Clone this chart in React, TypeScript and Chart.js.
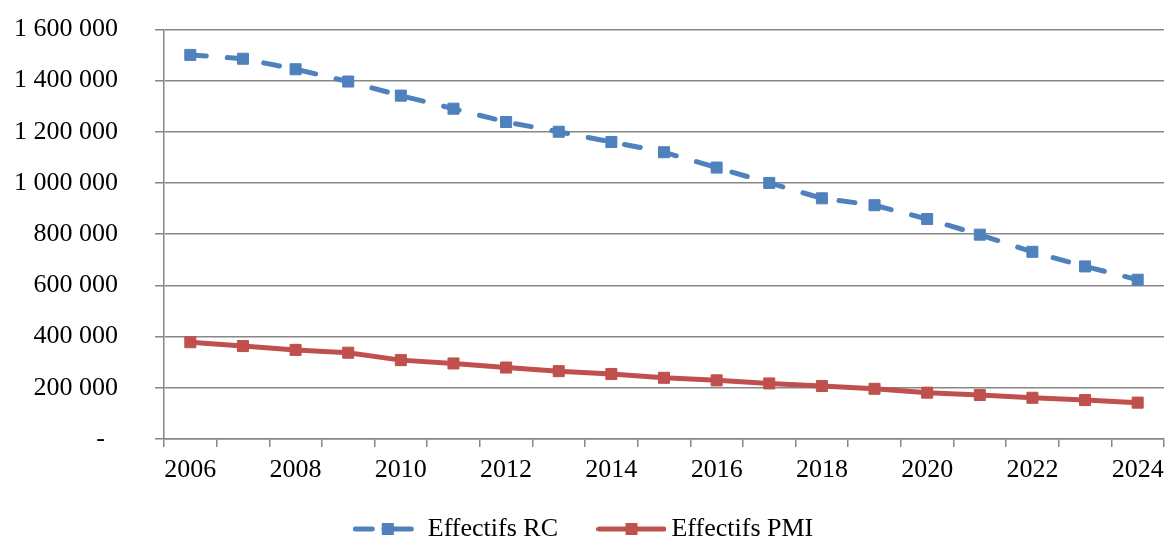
import React, { useEffect, useRef } from "react";
import { Chart, registerables } from "chart.js";

Chart.register(...registerables);

const years = ["2006", "2007", "2008", "2009", "2010", "2011", "2012", "2013", "2014", "2015", "2016", "2017", "2018", "2019", "2020", "2021", "2022", "2023", "2024"];
const rcValues = [1500000, 1485000, 1444000, 1396000, 1341000, 1290000, 1238000, 1200000, 1160000, 1120000, 1060000, 1000000, 940000, 913000, 859000, 798000, 731000, 674000, 622000];
const pmiValues = [378000, 363000, 348000, 337000, 308000, 295000, 279000, 265000, 254000, 239000, 229000, 217000, 207000, 196000, 181000, 172000, 161000, 152000, 142000];
const seriesNames = ["Effectifs RC", "Effectifs PMI"];
const yMin = 0;
const yMax = 1600000;
const yStep = 200000;

const BLUE = "#4F81BD";
const RED = "#C0504D";
const GRID = "#878787";
const FONT = '"Liberation Serif", "Times New Roman", serif';

function makeLegendSymbol(color: string, dashed: boolean): HTMLCanvasElement {
  const c = document.createElement("canvas");
  c.width = 70;
  c.height = 14;
  const ctx = c.getContext("2d")!;
  ctx.strokeStyle = color;
  ctx.fillStyle = color;
  ctx.lineWidth = 5;
  ctx.lineCap = "round";
  ctx.beginPath();
  if (dashed) {
    ctx.moveTo(2.5, 7);
    ctx.lineTo(19.5, 7);
    ctx.moveTo(31, 7);
    ctx.lineTo(58.5, 7);
  } else {
    ctx.moveTo(2.5, 7);
    ctx.lineTo(67.5, 7);
  }
  ctx.stroke();
  ctx.fillRect(29, 1, 12, 12);
  return c;
}

function formatY(v: number): string {
  if (v === 0) return "-  ";
  return String(v).replace(/\B(?=(\d{3})+(?!\d))/g, " ");
}

const legendShift = {
  id: "legendShift",
  afterLayout(chart: any) {
    if (chart.legend) {
      chart.legend.left += 5;
      chart.legend.right += 5;
    }
  },
};

export default function App() {
  const ref = useRef<HTMLCanvasElement | null>(null);

  useEffect(() => {
    if (!ref.current) return;
    Chart.defaults.font.family = FONT;
    Chart.defaults.font.size = 26;
    Chart.defaults.color = "#000";
    const symbols = [makeLegendSymbol(BLUE, true), makeLegendSymbol(RED, false)];
    const gaps = ["\u2002 ", ""];

    const chart = new Chart(ref.current, {
      type: "line",
      data: {
        labels: years,
        datasets: [
          {
            label: seriesNames[0],
            data: rcValues,
            borderColor: BLUE,
            backgroundColor: BLUE,
            borderWidth: 5,
            borderDash: [16, 21],
            borderCapStyle: "round",
            pointStyle: "rect",
            pointRadius: 7.8,
            pointBorderWidth: 1,
            pointBackgroundColor: BLUE,
            pointBorderColor: BLUE,
            tension: 0,
          },
          {
            label: seriesNames[1],
            data: pmiValues,
            borderColor: RED,
            backgroundColor: RED,
            borderWidth: 5,
            borderCapStyle: "round",
            pointStyle: "rect",
            pointRadius: 7.8,
            pointBorderWidth: 1,
            pointBackgroundColor: RED,
            pointBorderColor: RED,
            tension: 0,
          },
        ],
      },
      options: {
        animation: false,
        responsive: false,
        maintainAspectRatio: false,
        layout: { autoPadding: false, padding: { left: 0, right: 2, top: 29.3, bottom: -11 } },
        plugins: {
          tooltip: { enabled: false },
          legend: {
            position: "bottom",
            labels: {
              usePointStyle: true,
              pointStyleWidth: 54,
              padding: 27,
              font: { size: 26, family: FONT },
              color: "#000",
              generateLabels: (ch: any) => {
                const items = Chart.defaults.plugins.legend.labels.generateLabels(ch);
                return items.map((it: any, i: number) => ({ ...it, text: it.text + gaps[i], pointStyle: symbols[i] }));
              },
            },
          },
        },
        scales: {
          x: {
            type: "category",
            offset: true,
            afterFit: (s: any) => {
              s.height = 50;
              s.paddingLeft = 0;
              s.paddingRight = 0;
            },
            grid: {
              offset: true,
              drawOnChartArea: false,
              drawTicks: true,
              tickLength: 8,
              color: GRID,
              lineWidth: 1.5,
            },
            border: { color: GRID, width: 1.5 },
            ticks: {
              autoSkip: false,
              maxRotation: 0,
              padding: 8,
              font: { size: 26, family: FONT },
              color: "#000",
              callback: function (this: any, val: any, index: number) {
                return index % 2 === 0 ? this.getLabelForValue(val) : "";
              },
            },
          },
          y: {
            min: yMin,
            max: yMax,
            afterFit: (s: any) => {
              s.width = 164;
              s.paddingTop = 0;
              s.paddingBottom = 0;
            },
            grid: {
              color: GRID,
              lineWidth: 1.5,
              drawTicks: true,
              tickLength: 9,
            },
            border: { color: GRID, width: 1.5 },
            ticks: {
              stepSize: yStep,
              padding: 37,
              font: { size: 26, family: FONT },
              color: "#000",
              callback: (v: any) => formatY(Number(v)),
            },
          },
        },
      },
      plugins: [legendShift],
    });
    return () => chart.destroy();
  }, []);

  return (
    <div style={{ position: "fixed", left: 0, top: 0, width: 1166, height: 541, background: "#fff" }}>
      <canvas ref={ref} width={1166} height={541} style={{ display: "block", width: 1166, height: 541 }} />
    </div>
  );
}
